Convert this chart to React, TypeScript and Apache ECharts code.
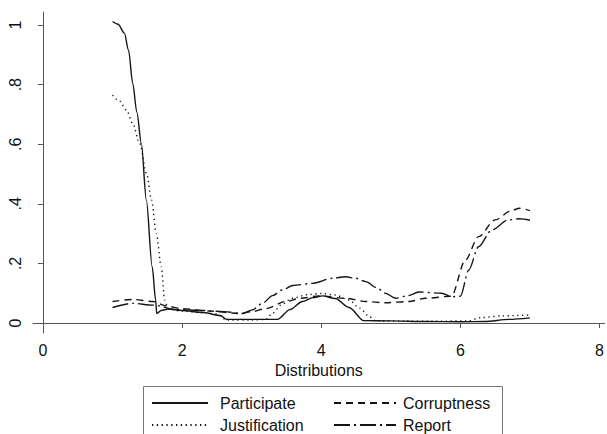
import React, { useEffect, useRef } from "react";
import * as echarts from "echarts";

const seriesNames = ["Participate", "Justification", "Corruptness", "Report"];

const participateX = [1.0, 1.08, 1.17, 1.23, 1.29, 1.35, 1.414, 1.486, 1.57, 1.62, 1.635, 1.7, 1.8, 2.0, 2.3, 2.55, 2.64, 3.0, 3.37, 3.55, 3.73, 3.88, 4.02, 4.2, 4.4, 4.61, 5.0, 5.5, 6.0, 6.35, 6.7, 7.0];
const participateY = [1.012, 1.003, 0.973, 0.916, 0.805, 0.707, 0.603, 0.413, 0.189, 0.077, 0.032, 0.042, 0.047, 0.042, 0.035, 0.025, 0.012, 0.012, 0.012, 0.045, 0.072, 0.085, 0.091, 0.082, 0.052, 0.008, 0.007, 0.005, 0.004, 0.005, 0.012, 0.017];

const justificationX = [1.0, 1.1, 1.2, 1.29, 1.39, 1.49, 1.56, 1.63, 1.7, 1.75, 1.8, 2.0, 2.3, 2.5, 2.64, 3.0, 3.2, 3.3, 3.42, 3.58, 3.8, 4.0, 4.2, 4.4, 4.55, 4.7, 4.78, 5.2, 5.6, 6.1, 6.3, 6.6, 7.0];
const justificationY = [0.765, 0.745, 0.715, 0.67, 0.603, 0.502, 0.413, 0.3, 0.189, 0.077, 0.047, 0.04, 0.035, 0.03, 0.01, 0.01, 0.012, 0.033, 0.06, 0.083, 0.095, 0.099, 0.094, 0.077, 0.05, 0.02, 0.007, 0.006, 0.006, 0.007, 0.018, 0.024, 0.027];

const corruptnessX = [1.0, 1.29, 1.58, 1.77, 2.0, 2.4, 2.82, 3.0, 3.2, 3.49, 3.7, 3.97, 4.35, 4.64, 4.92, 5.26, 5.5, 5.87, 6.07, 6.26, 6.5, 6.73, 6.85, 7.0];
const corruptnessY = [0.072, 0.079, 0.072, 0.057, 0.048, 0.04, 0.032, 0.038, 0.048, 0.072, 0.083, 0.091, 0.083, 0.072, 0.068, 0.072, 0.083, 0.09, 0.21, 0.29, 0.346, 0.377, 0.385, 0.377];

const reportX = [1.0, 1.29, 1.58, 1.92, 2.3, 2.6, 2.87, 3.01, 3.15, 3.3, 3.45, 3.59, 3.87, 4.16, 4.35, 4.5, 4.64, 4.8, 4.92, 5.07, 5.25, 5.4, 5.73, 5.87, 6.0, 6.12, 6.26, 6.45, 6.69, 6.85, 7.0];
const reportY = [0.052, 0.066, 0.06, 0.045, 0.042, 0.038, 0.032, 0.044, 0.065, 0.092, 0.112, 0.126, 0.133, 0.15, 0.155, 0.15, 0.139, 0.118, 0.1, 0.083, 0.092, 0.104, 0.1, 0.088, 0.09, 0.178, 0.256, 0.312, 0.346, 0.35, 0.345];

const xTicks = [0, 2, 4, 6, 8];
const yTicks = [0, 0.2, 0.4, 0.6, 0.8, 1];

const FONT = "'Liberation Sans', Arial, Helvetica, sans-serif";
const LINE = "#151515";

function zip(xs: number[], ys: number[]) {
  return xs.map((x, i) => [x, ys[i]]);
}

export default function App() {
  const ref = useRef<HTMLDivElement>(null);
  useEffect(() => {
    if (!ref.current) return;
    const chart = echarts.init(ref.current, null, { renderer: "svg" });
    const dashes: any[] = ["solid", [1.3, 3.5], [7, 5], [16, 4, 2, 4]];
    const datas = [
      zip(participateX, participateY),
      zip(justificationX, justificationY),
      zip(corruptnessX, corruptnessY),
      zip(reportX, reportY),
    ];
    const series = seriesNames.map((name, i) => ({
      name,
      type: "line",
      data: datas[i],
      symbol: "none",
      smooth: 0.3,
      smoothMonotone: "x",
      lineStyle: { color: LINE, width: 1.4, type: dashes[i] },
      itemStyle: { color: LINE },
    }));
    const textStyle = { fontFamily: FONT, fontSize: 16, color: "#111" };
    const legendCommon = {
      orient: "vertical",
      top: 395,
      padding: 0,
      height: 42,
      itemHeight: 16,
      itemGap: 6,
      itemStyle: { opacity: 0, borderWidth: 0 },
    };
    chart.setOption({
      animation: false,
      backgroundColor: "#fff",
      grid: { left: 33, right: 0, top: 12, bottom: 101 },
      xAxis: {
        type: "value",
        min: -0.143,
        max: 8.072,
        name: "Distributions",
        nameLocation: "middle",
        nameGap: 27,
        nameTextStyle: textStyle,
        axisLine: { show: true, lineStyle: { color: "#555", width: 1 } },
        axisTick: { show: true, length: 5, customValues: xTicks, lineStyle: { color: "#555" } },
        axisLabel: {
          customValues: xTicks,
          margin: 9,
          ...textStyle,
          formatter: (v: number) => String(v),
        },
        splitLine: { show: false },
      },
      yAxis: {
        type: "value",
        min: -0.0336,
        max: 1.044,
        axisLine: { show: true, lineStyle: { color: "#555", width: 1 } },
        axisTick: { show: true, length: 5, customValues: yTicks, lineStyle: { color: "#555" } },
        axisLabel: {
          customValues: yTicks,
          rotate: 90,
          margin: 10,
          ...textStyle,
          formatter: (v: number) => {
            if (v === 0) return "0";
            if (Math.abs(v - 1) < 1e-9) return "1";
            return "." + String(Math.round(v * 10));
          },
        },
        splitLine: { show: false },
      },
      legend: [
        { ...legendCommon, left: 151, itemWidth: 56, data: [seriesNames[0], seriesNames[1]], textStyle: { ...textStyle, padding: [0, 0, 0, 7] } },
        { ...legendCommon, left: 333, itemWidth: 62, data: [seriesNames[2], seriesNames[3]], textStyle: { ...textStyle, padding: [0, 0, 0, 2] } },
      ],
      graphic: [
        {
          type: "rect",
          z: -1,
          shape: { x: 143.5, y: 386.5, width: 359, height: 60 },
          style: { fill: "#fff", stroke: "#777", lineWidth: 1 },
        },
      ],
      series,
    });
    return () => chart.dispose();
  }, []);
  return <div ref={ref} style={{ position: "fixed", left: 0, top: 0, width: 607, height: 434 }} />;
}
